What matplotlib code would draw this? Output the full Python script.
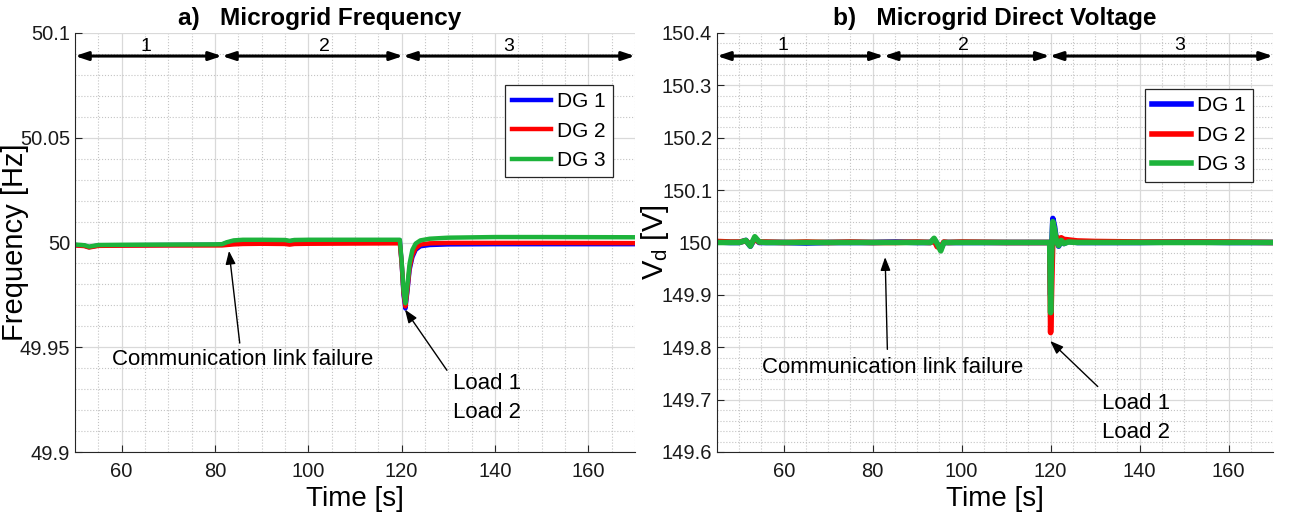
import numpy as np
import matplotlib.pyplot as plt
from matplotlib.ticker import MultipleLocator

plt.rcParams['font.family'] = ['Liberation Sans', 'DejaVu Sans']

# frequency panel (a)
t_freq = [50, 52, 53, 55, 60, 70, 80, 81.5, 82.5, 84, 86, 90, 95, 96, 97, 100, 110,
          119.6, 120.0, 120.4, 120.8, 121.2, 121.7, 122.3, 123, 124, 126, 130, 140, 150, 170]
f_dg1 = [49.9988, 49.9985, 49.9978, 49.9986, 49.9987, 49.9988, 49.9989, 49.999, 49.9998, 50.0006, 50.001,
         50.0011, 50.0009, 50.0005, 50.001, 50.0011, 50.0011, 50.0011, 49.99, 49.975, 49.9685, 49.976,
         49.987, 49.993, 49.9965, 49.9982, 49.9988, 49.9991, 49.9992, 49.9992, 49.9992]
f_dg2 = [49.9986, 49.9983, 49.9976, 49.9984, 49.9985, 49.9986, 49.9986, 49.9986, 49.9988, 49.9991, 49.9993,
         49.9994, 49.9993, 49.999, 49.9993, 49.9994, 49.9995, 49.9996, 49.99, 49.976, 49.9695, 49.977,
         49.988, 49.994, 49.9972, 49.999, 49.9996, 49.9998, 49.9998, 49.9998, 49.9997]
f_dg3 = [49.999, 49.9987, 49.998, 49.9988, 49.9989, 49.999, 49.9991, 49.9992, 50.0001, 50.001, 50.0013,
         50.0013, 50.0012, 50.0008, 50.0012, 50.0013, 50.0013, 50.0013, 49.991, 49.977, 49.971, 49.979,
         49.99, 49.9965, 49.9995, 50.001, 50.0018, 50.0023, 50.0026, 50.0026, 50.0025]

# direct voltage panel (b)
t_volt = [45, 48, 50, 51.5, 52.5, 53.5, 54.5, 56, 60, 65, 70, 75, 80, 85, 90, 93, 93.8, 94.5,
          95.3, 96, 97, 100, 110, 119.8, 120.0, 120.2, 120.5, 120.9, 121.3, 121.8, 122.4, 123,
          124, 126, 130, 140, 150, 160, 170]
v_dg1 = [150.001, 150.0, 150.0, 150.004, 149.993, 150.008, 150.0, 150.0, 150.0, 149.999, 150.0,
         150.0, 150.0, 150.001, 150.0, 150.0, 150.006, 149.997, 149.988, 150.0, 150.0, 150.0, 150.0,
         150.0, 149.9, 149.98, 150.046, 150.03, 150.005, 149.993, 150.004, 149.998, 150.002, 150.0,
         150.0, 150.0, 150.001, 150.0, 150.0]
v_dg2 = [150.002, 150.001, 150.001, 150.003, 149.996, 150.006, 150.001, 150.001, 150.0, 150.001, 150.0,
         150.001, 150.0, 150.0, 150.001, 150.0, 150.004, 149.992, 149.99, 150.001, 150.0, 150.001, 150.0,
         150.0, 149.828, 149.9, 150.005, 150.012, 150.01, 150.007, 150.009, 150.006, 150.005, 150.003,
         150.002, 150.001, 150.001, 150.001, 150.0]
v_dg3 = [150.0, 150.0, 150.0, 150.004, 149.993, 150.011, 150.001, 150.0, 150.0, 150.0, 150.0,
         150.0, 150.0, 150.0, 150.0, 150.0, 150.008, 149.998, 149.984, 150.0, 150.0, 150.0, 150.0,
         150.0, 149.866, 149.97, 150.04, 150.025, 150.002, 149.994, 150.004, 149.998, 150.001, 150.0,
         150.0, 150.0, 150.0, 150.0, 150.0]

labels = ['DG 1', 'DG 2', 'DG 3']
colors = ['#0000ff', '#ff0000', '#1db33b']

freq_stages = [50, 81.5, 120.3, 170]
freq_stage_x = [65.2, 103.5, 143]
volt_stages = [45, 82.5, 119.8, 170]
volt_stage_x = [59.8, 100.5, 149]
stage_names = ['1', '2', '3']

fig = plt.figure(figsize=(12.9, 5.14), dpi=100)
ax1 = fig.add_axes([75 / 1290, 62 / 514, 560 / 1290, 419 / 514])
ax2 = fig.add_axes([717 / 1290, 62 / 514, 556 / 1290, 419 / 514])


def style_axes(ax):
    ax.minorticks_on()
    ax.grid(which='major', color='#d9d9d9', linestyle='-', linewidth=0.9)
    ax.grid(which='minor', color='#c4c4c4', linestyle=':', linewidth=0.8)
    ax.set_axisbelow(True)
    ax.spines['top'].set_visible(False)
    ax.spines['right'].set_visible(False)
    ax.spines['left'].set_color('#262626')
    ax.spines['bottom'].set_color('#262626')
    ax.tick_params(which='both', direction='in', labelsize=14.5, colors='#262626')
    ax.tick_params(which='major', length=5)
    ax.tick_params(axis='x', which='major', pad=7)
    ax.tick_params(which='minor', length=0)
    for lab in ax.get_xticklabels() + ax.get_yticklabels():
        lab.set_color('#1a1a1a')


for y, c, lab in zip([f_dg1, f_dg2, f_dg3], colors, labels):
    ax1.plot(t_freq, y, color=c, linewidth=3.2, label=lab, solid_joinstyle='round')
for y, c, lab in zip([v_dg1, v_dg2, v_dg3], colors, labels):
    ax2.plot(t_volt, y, color=c, linewidth=4, label=lab, solid_joinstyle='round')

ax1.set_xlim(50, 170)
ax1.set_ylim(49.9, 50.1)
ax1.xaxis.set_major_locator(MultipleLocator(20))
ax1.xaxis.set_minor_locator(MultipleLocator(5))
ax1.yaxis.set_minor_locator(MultipleLocator(0.01))
ax1.set_yticks([49.9, 49.95, 50, 50.05, 50.1])
ax1.set_yticklabels(['49.9', '49.95', '50', '50.05', '50.1'])
style_axes(ax1)

ax2.set_xlim(45, 170)
ax2.set_ylim(149.6, 150.4)
ax2.xaxis.set_major_locator(MultipleLocator(20))
ax2.xaxis.set_minor_locator(MultipleLocator(5))
ax2.yaxis.set_minor_locator(MultipleLocator(0.02))
ax2.set_yticks(np.round(np.arange(149.6, 150.41, 0.1), 1))
ax2.set_yticklabels(['149.6', '149.7', '149.8', '149.9', '150', '150.1', '150.2', '150.3', '150.4'])
style_axes(ax2)

ax1.set_title('a)   Microgrid Frequency', fontsize=17.6, fontweight='bold', pad=6, x=0.4375)
ax2.set_title('b)   Microgrid Direct Voltage', fontsize=17.6, fontweight='bold', pad=6)
ax1.set_xlabel('Time [s]', fontsize=20, labelpad=4)
ax2.set_xlabel('Time [s]', fontsize=20, labelpad=4)
ax1.set_ylabel('Frequency [Hz]', fontsize=21)
ax1.yaxis.set_label_coords(-0.082, 0.5)
ax2.set_ylabel(r'V$_\mathregular{d}$ [V]', fontsize=21)
ax2.yaxis.set_label_coords(-0.083, 0.5)

# stage arrows on top
arrow_style = dict(arrowstyle='<|-|>,head_length=0.75,head_width=0.25', color='black', lw=2.2,
                   shrinkA=0, shrinkB=0)
for ax, st, sx, ya, yt in [(ax1, freq_stages, freq_stage_x, 50.089, 50.0935),
                           (ax2, volt_stages, volt_stage_x, 150.356, 150.376)]:
    for i in range(3):
        ax.annotate('', xy=(st[i + 1], ya), xytext=(st[i], ya), arrowprops=arrow_style,
                    annotation_clip=False)
        ax.text(sx[i], yt, stage_names[i], fontsize=14, ha='center', va='center')

ptr = dict(arrowstyle='-|>,head_length=0.8,head_width=0.3', color='black', lw=1, shrinkA=0, shrinkB=0)
ax1.annotate('', xy=(83, 49.996), xytext=(85.3, 49.952), arrowprops=ptr)
ax1.text(86, 49.944, 'Communication link failure', fontsize=16, ha='center', va='center')
ax1.annotate('', xy=(120.7, 49.968), xytext=(129.7, 49.939), arrowprops=ptr)
ax1.text(131, 49.926, 'Load 1\nLoad 2', fontsize=16, ha='left', va='center', linespacing=1.5)

ax2.annotate('', xy=(82.8, 149.972), xytext=(83.3, 149.796), arrowprops=ptr)
ax2.text(84.5, 149.762, 'Communication link failure', fontsize=16, ha='center', va='center')
ax2.annotate('', xy=(119.9, 149.812), xytext=(130.6, 149.725), arrowprops=ptr)
ax2.text(131.5, 149.665, 'Load 1\nLoad 2', fontsize=16, ha='left', va='center', linespacing=1.5)

for ax, anchor in [(ax1, (0.961, 0.876)), (ax2, (0.964, 0.866))]:
    leg = ax.legend(loc='upper right', bbox_to_anchor=anchor, fontsize=15, fancybox=False,
                    framealpha=1, edgecolor='#262626', handlelength=1.85, handletextpad=0.3,
                    borderpad=0.35, labelspacing=0.5, borderaxespad=0)
    leg.get_frame().set_linewidth(0.9)

fig.savefig('out.png', dpi=100)
